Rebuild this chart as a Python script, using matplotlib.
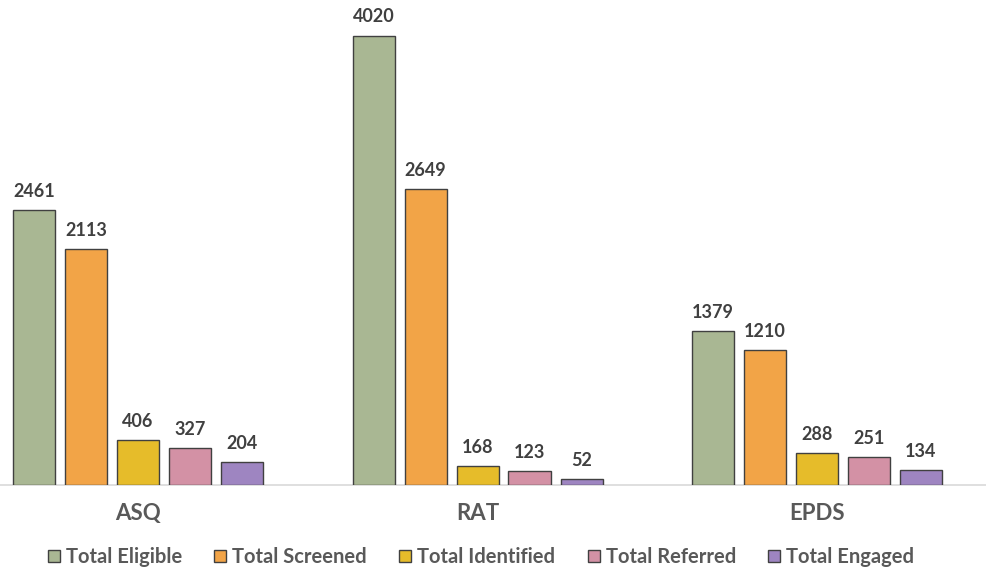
import matplotlib.pyplot as plt
import numpy as np

categories = ['ASQ', 'RAT', 'EPDS']
series = ['Total Eligible', 'Total Screened', 'Total Identified', 'Total Referred', 'Total Engaged']
values = {
    'Total Eligible':   [2461, 4020, 1379],
    'Total Screened':   [2113, 2649, 1210],
    'Total Identified': [406, 168, 288],
    'Total Referred':   [327, 123, 251],
    'Total Engaged':    [204, 52, 134],
}
colors = ['#A9B793', '#F2A447', '#E6BC2A', '#D391A5', '#9E85C1']

plt.rcParams['font.family'] = ['Lato', 'DejaVu Sans']

fig = plt.figure(figsize=(9.86, 5.70), dpi=100)
ax = fig.add_axes([0, 85/570, 1, 485/570])

x = np.arange(len(categories))
step = 52 / 339.5
width = 42 / 339.5

for i, name in enumerate(series):
    pos = x + (i - 2) * step
    bars = ax.bar(pos, values[name], width=width, color=colors[i],
                  edgecolor='#404040', linewidth=1.0, label=name, zorder=3)
    for b, v in zip(bars, values[name]):
        ax.text(b.get_x() + b.get_width() / 2, v + 90, str(v), ha='center', va='bottom',
                fontsize=13, fontweight='bold', color='#404040')

ax.set_xlim(-138 / 339.5, (986 - 138) / 339.5)
ax.set_ylim(0, 4338)

for s in ['top', 'right', 'left']:
    ax.spines[s].set_visible(False)
ax.spines['bottom'].set_color('#D9D9D9')
ax.spines['bottom'].set_linewidth(1.2)
ax.set_yticks([])
ax.set_xticks(x)
ax.set_xticklabels(categories, fontsize=16, fontweight='bold', color='#595959')
ax.tick_params(axis='x', length=0, pad=13)

leg = fig.legend(loc='center', bbox_to_anchor=(481/986, 13/570), ncol=5, frameon=False,
                 handlelength=0.6, handleheight=0.6, handletextpad=0.3,
                 columnspacing=1.6, prop={'weight': 'bold', 'size': 14.5})
for t in leg.get_texts():
    t.set_color('#595959')

fig.savefig('out.png', dpi=100)
